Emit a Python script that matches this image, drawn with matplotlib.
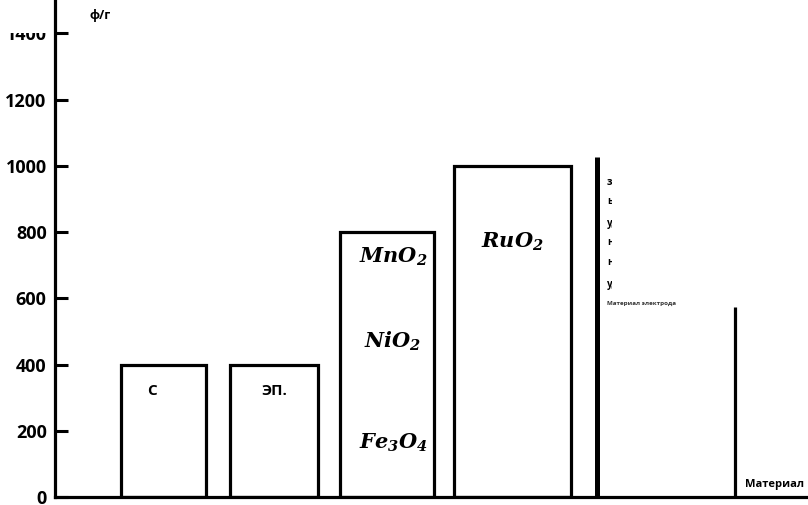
import matplotlib
matplotlib.use("Agg")
import matplotlib.pyplot as plt
from matplotlib.patches import Rectangle

plt.rcParams['mathtext.fontset'] = 'custom'
plt.rcParams['mathtext.bf'] = 'DejaVu Serif:italic:bold'
plt.rcParams['mathtext.it'] = 'DejaVu Serif:italic:bold'
plt.rcParams['mathtext.rm'] = 'DejaVu Serif:italic:bold'

# data
bar_labels = ["С", "ЭП.", "", "$RuO_2$"]
bar_values = [400, 400, 800, 1000]
bar_pos = [1.085, 2.19, 3.32, 4.575]
bar_width = [0.85, 0.88, 0.94, 1.17]
stack_labels = ["$MnO_2$", "$NiO_2$", "$Fe_3O_4$"]
stack_label_y = [725, 470, 165]
line_pos = [5.42, 6.80]
line_values = [1027, 574]
yticks = [0, 200, 400, 600, 800, 1000, 1200, 1400]
side_words = ["зарядная", "ьмкость", "удельная", "напряжение", "ноль", "удельная"]
side_y = [950, 893, 827, 770, 707, 641]
side_last = "Материал электрода"
side_last_y = 584

fig = plt.figure(figsize=(8.08, 5.05), dpi=100)
ax = fig.add_axes([55/808, 8/505, 753/808, 497/505])
ax.set_xlim(0, 7.53)
ax.set_ylim(0, 1501)

ax.bar(bar_pos, bar_values, width=bar_width, color='white', edgecolor='black', linewidth=2.3, zorder=2)
ax.vlines(line_pos[0], 0, line_values[0], color='black', linewidth=3.6, zorder=3)
ax.vlines(line_pos[1], 0, line_values[1], color='black', linewidth=2.3, zorder=3)

for p, lab in zip(bar_pos[:2], bar_labels[:2]):
    ax.text(p - 0.11 if lab == "С" else p, 320, lab, ha='center', va='center',
            fontsize=11, fontweight='bold', family='Open Sans')
for lab, yy in zip(stack_labels, stack_label_y):
    ax.text(bar_pos[2] + 0.06, yy, lab, ha='center', va='center', fontsize=15)
ax.text(bar_pos[3], 770, bar_labels[3], ha='center', va='center', fontsize=15)

clip = Rectangle((5.51, 540), 0.055, 500, transform=ax.transData, visible=False)
ax.add_patch(clip)
for w, yy in zip(side_words, side_y):
    t = ax.text(5.52, yy, w, ha='left', va='center', fontsize=7, fontweight='bold', family='Open Sans')
    t.set_clip_on(True)
    t.set_clip_path(clip)
ax.text(5.52, side_last_y, side_last, ha='left', va='center', fontsize=4.5, color='#333333',
        family='Open Sans', fontweight='bold')

ax.set_yticks(yticks)
ax.set_yticklabels([str(v) for v in yticks], fontsize=13, fontweight='bold', family='Open Sans')
ax.set_xticks([])
ax.tick_params(axis='y', direction='in', length=9, width=2.2, pad=6)
for s in ['top', 'right']:
    ax.spines[s].set_visible(False)
ax.spines['left'].set_linewidth(2.3)
ax.spines['bottom'].set_linewidth(2.3)

fig.text(100/808, 1 - 15/505, "ф/г", ha='center', va='center', fontsize=9, fontweight='bold', family='Open Sans')
fig.text(775/808, 1 - 485/505, "Материал", ha='center', va='center', fontsize=8, fontweight='bold', family='Open Sans')
fig.text(370/808, -6/505, "экситы", ha='center', va='center', fontsize=10, fontweight='bold', family='Open Sans')

# white cover mimicking clipped top tick label
fig.patches.append(Rectangle((0, 1 - 33/505), 50/808, 33/505, transform=fig.transFigure,
                             facecolor='white', edgecolor='none', zorder=10))

fig.savefig("out.png", dpi=100)
